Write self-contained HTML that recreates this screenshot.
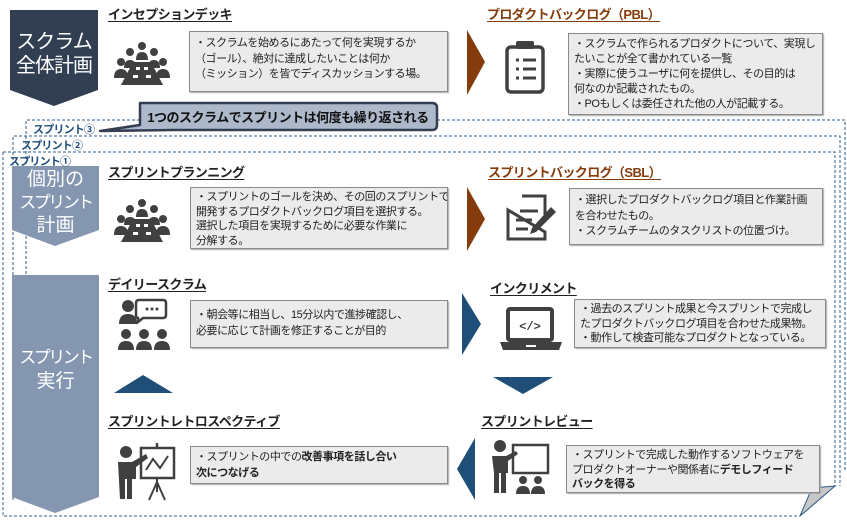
<!DOCTYPE html>
<html><head><meta charset="utf-8"><style>
*{margin:0;padding:0;box-sizing:border-box}
body{width:847px;height:521px;background:#fff;position:relative;overflow:hidden;font-family:"Liberation Sans","Noto Sans CJK JP",sans-serif;color:#222}
.a{position:absolute}
.t{position:absolute;font-weight:bold;font-size:13px;text-decoration:underline;text-decoration-thickness:1px;text-underline-offset:2px;white-space:nowrap;letter-spacing:-0.6px}
.br{color:#843c0c}
.box{position:absolute;background:#ebebeb;border:1px solid #8a8a8a;box-shadow:1px 1px 1px #aaa;font-size:11px;line-height:15.5px;padding:4px 5px;white-space:nowrap;letter-spacing:-0.45px;color:#222;overflow:hidden}
.lab{position:absolute;color:#fff;text-align:center;line-height:1.2;white-space:nowrap}
.k{letter-spacing:-2.5px;font-size:17px}
.sl{position:absolute;color:#1f4e79;font-size:11px;font-weight:bold;white-space:nowrap;letter-spacing:-0.8px}
</style></head><body>
<svg class="a" style="left:0;top:0" width="847" height="521">
<g fill="none" stroke="#2e5b8a" stroke-width="1" stroke-dasharray="3,2">
<polyline points="26,484 26,120 845,120 845,470"/>
<polyline points="13,500 13,136 840,136 840,486"/>
<polyline points="3,152 835,152 835,486 800,516 3,516 3,152"/>
</g>
<polygon points="835,486 800,516 812,488" fill="#c8c8c8" stroke="#2e5b8a" stroke-width="1"/>
<polygon points="10,10 98,10 98,90 54,106 10,90" fill="#323f52"/>
<polygon points="12,166 99,166 99,230 55,246 12,230" fill="#8496b0"/>
<polygon points="12,275 99,275 99,497 55,513 12,497" fill="#8496b0"/>
<path d="M140,103 H432 Q437,103 437,108 V125 Q437,130 432,130 H175 L100,131 L140,125 Z" fill="#adb9ca" stroke="#333f50" stroke-width="2.5" stroke-linejoin="round"/>
<polygon points="467,30 485,62 467,95" fill="#843c0c"/>
<polygon points="467,187 485,219 467,251" fill="#843c0c"/>
<polygon points="462,293 481,324 462,355" fill="#1f4e79"/>
<polygon points="114,393 143,375 173,393" fill="#1f4e79"/>
<polygon points="493,377 553,377 523,394" fill="#1f4e79"/>
<polygon points="475,438 457,469 475,500" fill="#1f4e79"/>
<g fill="#404040">
<g id="mt">
<circle cx="142" cy="46" r="4"/><circle cx="130" cy="52" r="4"/><circle cx="154" cy="52" r="4"/>
<circle cx="121" cy="62" r="4"/><circle cx="163" cy="62" r="4"/>
<path d="M114,78 q0,-9 7,-9 q7,0 7,9z M156,78 q0,-9 7,-9 q7,0 7,9z M124,68 q0,-8 6,-8 q6,0 6,8z M148,68 q0,-8 6,-8 q6,0 6,8z M136,60 q0,-8 6,-8 q6,0 6,8z"/>
<polygon points="133,62 151,62 163,85 121,85"/>
</g>
<use href="#mt" y="157"/>
</g>
<g fill="#fff"><rect x="136" y="67" width="4" height="3"/><rect x="144" y="67" width="4" height="3"/><rect x="133" y="75" width="5" height="3"/><rect x="146" y="75" width="5" height="3"/>
<rect x="136" y="224" width="4" height="3"/><rect x="144" y="224" width="4" height="3"/><rect x="133" y="232" width="5" height="3"/><rect x="146" y="232" width="5" height="3"/></g>
<rect x="507" y="47" width="36" height="45" rx="4" fill="none" stroke="#404040" stroke-width="3.5"/>
<rect x="516" y="41" width="18" height="8" rx="2" fill="#404040"/>
<g stroke="#404040" stroke-width="3"><line x1="516" y1="60" x2="519" y2="60"/><line x1="523" y1="60" x2="536" y2="60"/><line x1="516" y1="69" x2="519" y2="69"/><line x1="523" y1="69" x2="536" y2="69"/><line x1="516" y1="78" x2="519" y2="78"/><line x1="523" y1="78" x2="536" y2="78"/></g>
<path d="M522,196 H545 V215 M545,232 V239 H508 V210 Z" fill="none" stroke="#404040" stroke-width="3"/>
<g stroke="#404040" stroke-width="3"><line x1="520" y1="211" x2="538" y2="211"/><line x1="516" y1="220" x2="532" y2="220"/><line x1="516" y1="229" x2="528" y2="229"/></g>
<path d="M551,207 L556,212 L536,232 L530,234 L532,228 Z" fill="#404040"/>
<g fill="#404040">
<circle cx="128" cy="306" r="6"/><path d="M119,324 q0,-10 9,-10 q9,0 9,10z"/>
<path d="M139,300 h24 q3,0 3,3 v12 q0,3 -3,3 h-20 l-5,4 v-4 q-2,0 -2,-3 v-12 q0,-3 3,-3z" fill="none" stroke="#404040" stroke-width="2.5"/>
<circle cx="147" cy="309" r="1.5"/><circle cx="152" cy="309" r="1.5"/><circle cx="157" cy="309" r="1.5"/>
<circle cx="126" cy="334" r="5"/><circle cx="144" cy="334" r="5"/><circle cx="162" cy="334" r="5"/>
<path d="M118,350 q0,-9 8,-9 q8,0 8,9z M136,350 q0,-9 8,-9 q8,0 8,9z M154,350 q0,-9 8,-9 q8,0 8,9z"/>
</g>
<rect x="508" y="309" width="44" height="31" rx="2" fill="none" stroke="#404040" stroke-width="4"/>
<path d="M500,342 H562 L559,350 H503 Z" fill="#404040"/>
<rect x="526" y="345" width="10" height="2" fill="#fff"/>
<text x="530" y="330" font-size="12" font-weight="bold" fill="#404040" text-anchor="middle" font-family="Liberation Mono,monospace">&lt;/&gt;</text>
<g fill="#404040"><circle cx="126" cy="452" r="6"/><path d="M118,462 h14 l14,-8 2,4 -12,9 v12 h-4 v20 h-5 v-20 h-2 v20 h-5z"/></g>
<rect x="141" y="448" width="33" height="30" fill="none" stroke="#404040" stroke-width="2.5"/>
<line x1="157" y1="443" x2="157" y2="448" stroke="#404040" stroke-width="2.5"/>
<polyline points="146,470 153,459 160,468 168,456" fill="none" stroke="#404040" stroke-width="2"/>
<g stroke="#404040" stroke-width="2"><line x1="157" y1="478" x2="157" y2="492"/><line x1="157" y1="482" x2="149" y2="500"/><line x1="157" y1="482" x2="165" y2="500"/></g>
<g fill="#404040"><circle cx="500" cy="446" r="6"/><path d="M492,456 h14 l10,-5 2,3 -10,7 v12 h-2 v20 h-5 v-20 h-2 v20 h-5 v-20z"/>
<circle cx="523" cy="480" r="4"/><circle cx="538" cy="480" r="4"/><path d="M516,494 q0,-8 7,-8 q7,0 7,8z M531,494 q0,-8 7,-8 q7,0 7,8z"/></g>
<rect x="513" y="445" width="35" height="28" fill="none" stroke="#404040" stroke-width="2.5"/>
</svg>

<div class="lab" style="left:10px;top:30px;width:88px;font-size:20px;letter-spacing:-1px">スクラム<br>全体計画</div>
<div class="lab" style="left:12px;top:168px;width:87px;font-size:19px;line-height:23px">個別の<br><span class="k">スプリント</span><br>計画</div>
<div class="lab" style="left:12px;top:346px;width:87px;font-size:19px;line-height:24px"><span class="k">スプリント</span><br>実行</div>

<div class="a" style="left:140px;top:107px;width:296px;text-align:center;font-weight:bold;font-size:13px;color:#111;letter-spacing:-0.5px;white-space:nowrap">1つのスクラムでスプリントは何度も繰り返される</div>
<div class="sl" style="left:33px;top:121px">スプリント③</div>
<div class="sl" style="left:21px;top:137px">スプリント②</div>
<div class="sl" style="left:9px;top:153px">スプリント①</div>

<div class="t" style="left:108px;top:4px">インセプションデッキ</div>
<div class="t br" style="left:487px;top:4px">プロダクトバックログ（PBL）</div>
<div class="t" style="left:108px;top:162px">スプリントプランニング</div>
<div class="t br" style="left:488px;top:162px">スプリントバックログ（SBL）</div>
<div class="t" style="left:108px;top:274px">デイリースクラム</div>
<div class="t" style="left:490px;top:278px">インクリメント</div>
<div class="t" style="left:108px;top:411px">スプリントレトロスペクティブ</div>
<div class="t" style="left:481px;top:411px">スプリントレビュー</div>

<div class="box" style="left:189px;top:31px;width:259px;height:61px">・スクラムを始めるにあたって何を実現するか<br>（ゴール）、絶対に達成したいことは何か<br>（ミッション）を皆でディスカッションする場。</div>
<div class="box" style="left:568px;top:33px;width:255px;height:82px;line-height:15px;padding-top:3px">・スクラムで作られるプロダクトについて、実現し<br>たいことが全て書かれている一覧<br>・実際に使うユーザに何を提供し、その目的は<br>何なのか記載されたもの。<br>・POもしくは委任された他の人が記載する。</div>
<div class="box" style="left:190px;top:187px;width:258px;height:62px;line-height:14.5px;padding-top:2px">・スプリントのゴールを決め、その回のスプリントで<br>開発するプロダクトバックログ項目を選択する。<br>選択した項目を実現するために必要な作業に<br>分解する。</div>
<div class="box" style="left:569px;top:188px;width:254px;height:57px">・選択したプロダクトバックログ項目と作業計画<br>を合わせたもの。<br>・スクラムチームのタスクリストの位置づけ。</div>
<div class="box" style="left:190px;top:300px;width:258px;height:48px;padding-top:7px">・朝会等に相当し、15分以内で進捗確認し、<br>必要に応じて計画を修正することが目的</div>
<div class="box" style="left:574px;top:299px;width:252px;height:49px;line-height:14.5px;padding-top:2px">・過去のスプリント成果と今スプリントで完成し<br>たプロダクトバックログ項目を合わせた成果物。<br>・動作して検査可能なプロダクトとなっている。</div>
<div class="box" style="left:190px;top:446px;width:258px;height:38px;padding-top:3px">・スプリントの中での<b>改善事項を話し合い</b><br><b>次につなげる</b></div>
<div class="box" style="left:566px;top:445px;width:254px;height:48px;line-height:14.5px;padding-top:2px">・スプリントで完成した動作するソフトウェアを<br>プロダクトオーナーや関係者に<b>デモしフィード</b><br><b>バックを得る</b></div>
</body></html>
